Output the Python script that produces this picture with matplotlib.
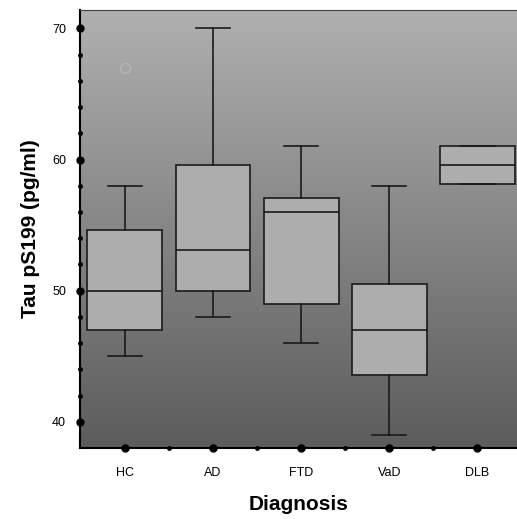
import matplotlib
matplotlib.use('agg')
import matplotlib.pyplot as plot
import numpy as np

groups = ['HC', 'AD', 'FTD', 'VaD', 'DLB']
whisker_low = [45, 48, 46, 39, 58.1]
q1 = [47, 50, 49, 43.6, 58.1]
median = [50, 53.1, 56, 47, 59.6]
q3 = [54.6, 59.6, 57.1, 50.5, 61]
whisker_high = [58, 70, 61, 58, 61]
outliers = [[67], [], [], [], []]

plot.rcParams['font.family'] = ['Liberation Sans', 'DejaVu Sans']

figure = plot.figure(figsize=(5.17, 5.19), dpi=100)
axis = figure.add_axes([0.1547, 0.1368, 0.8453, 0.8439])

stats = []
for i, name in enumerate(groups):
    stats.append({
        'label': name,
        'whislo': whisker_low[i],
        'q1': q1[i],
        'med': median[i],
        'q3': q3[i],
        'whishi': whisker_high[i],
        'fliers': outliers[i],
    })

positions = np.arange(1, len(groups) + 1)
axis.bxp(stats, positions=positions, widths=0.85, patch_artist=True,
         boxprops=dict(facecolor='#adadad', edgecolor='#1a1a1a', linewidth=1.2),
         medianprops=dict(color='#1a1a1a', linewidth=1.2),
         whiskerprops=dict(color='#1a1a1a', linewidth=1.2),
         capprops=dict(color='#1a1a1a', linewidth=1.2),
         capwidths=0.39,
         flierprops=dict(marker='o', markerfacecolor='none', markeredgecolor='#bababa',
                         markersize=7, markeredgewidth=0.8))

xlim = (0.49, 5.45)
ylim = (38.0, 71.4)
axis.set_xlim(*xlim)
axis.set_ylim(*ylim)

# vertical gray gradient behind the boxes
gradient = np.linspace(0, 1, 256).reshape(-1, 1)
axis.imshow(gradient, extent=[xlim[0], xlim[1], ylim[0], ylim[1]], aspect='auto',
            cmap=matplotlib.colors.LinearSegmentedColormap.from_list('bg', ['#5c5c5c', '#b0b0b0']),
            origin='lower', zorder=0)

major_y = [40, 50, 60, 70]
minor_y = [v for v in range(40, 71, 2) if v % 10 != 0]
minor_x = list(positions[:-1] + 0.5)

axis.set_xticks(positions)
axis.set_xticklabels(groups, fontsize=9)
axis.set_yticks(major_y)
axis.set_yticklabels([str(v) for v in major_y], fontsize=9)
axis.tick_params(axis='both', which='both', length=0)
axis.tick_params(axis='x', pad=14)
axis.tick_params(axis='y', pad=10)

# round dot tick marks sitting on the spines
xt = axis.get_xaxis_transform()
yt = axis.get_yaxis_transform()
axis.plot(positions, [0] * len(positions), 'o', color='black', markersize=5,
          transform=xt, clip_on=False, zorder=5)
axis.plot(minor_x, [0] * len(minor_x), 'o', color='black', markersize=2.5,
          transform=xt, clip_on=False, zorder=5)
axis.plot([0] * len(major_y), major_y, 'o', color='black', markersize=5,
          transform=yt, clip_on=False, zorder=5)
axis.plot([0] * len(minor_y), minor_y, 'o', color='black', markersize=2.5,
          transform=yt, clip_on=False, zorder=5)

axis.spines['left'].set_linewidth(1.5)
axis.spines['bottom'].set_linewidth(1.5)
axis.spines['top'].set_color('#404040')
axis.spines['right'].set_visible(False)

axis.set_xlabel('Diagnosis', fontsize=15, fontweight='bold', labelpad=11)
axis.set_ylabel('Tau pS199 (pg/ml)', fontsize=15, fontweight='bold', labelpad=9)

figure.savefig('out.png')
